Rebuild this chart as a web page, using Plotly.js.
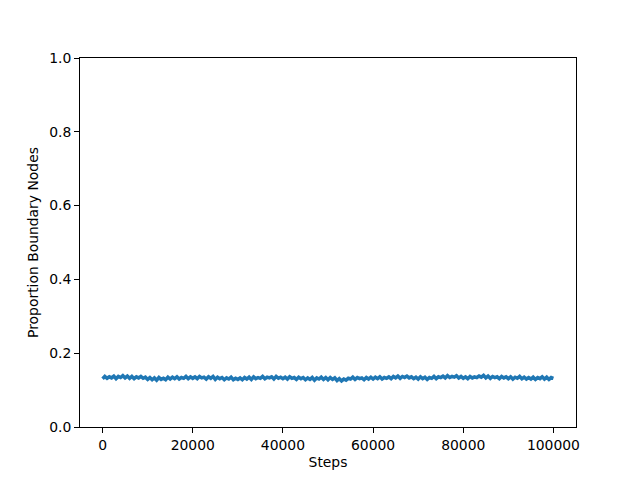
<!DOCTYPE html>
<html><head><meta charset="utf-8">
<script src="https://cdn.plot.ly/plotly-3.0.1.min.js"></script>
<style>body{margin:0}#p{width:640px;height:480px}</style>
</head><body><div id="p"></div>
<script>
const steps = [
0,500,1000,1500,2000,2500,3000,3500,4000,4500,
5000,5500,6000,6500,7000,7500,8000,8500,9000,9500,
10000,10500,11000,11500,12000,12500,13000,13500,14000,14500,
15000,15500,16000,16500,17000,17500,18000,18500,19000,19500,
20000,20500,21000,21500,22000,22500,23000,23500,24000,24500,
25000,25500,26000,26500,27000,27500,28000,28500,29000,29500,
30000,30500,31000,31500,32000,32500,33000,33500,34000,34500,
35000,35500,36000,36500,37000,37500,38000,38500,39000,39500,
40000,40500,41000,41500,42000,42500,43000,43500,44000,44500,
45000,45500,46000,46500,47000,47500,48000,48500,49000,49500,
50000,50500,51000,51500,52000,52500,53000,53500,54000,54500,
55000,55500,56000,56500,57000,57500,58000,58500,59000,59500,
60000,60500,61000,61500,62000,62500,63000,63500,64000,64500,
65000,65500,66000,66500,67000,67500,68000,68500,69000,69500,
70000,70500,71000,71500,72000,72500,73000,73500,74000,74500,
75000,75500,76000,76500,77000,77500,78000,78500,79000,79500,
80000,80500,81000,81500,82000,82500,83000,83500,84000,84500,
85000,85500,86000,86500,87000,87500,88000,88500,89000,89500,
90000,90500,91000,91500,92000,92500,93000,93500,94000,94500,
95000,95500,96000,96500,97000,97500,98000,98500,99000,99500,
100000];
const proportion = [
0.131,0.137,0.132,0.136,0.133,0.138,0.131,0.137,0.134,0.139,
0.133,0.138,0.132,0.137,0.131,0.136,0.133,0.137,0.132,0.135,
0.129,0.134,0.128,0.133,0.127,0.134,0.129,0.132,0.128,0.135,
0.130,0.135,0.131,0.136,0.130,0.134,0.132,0.137,0.131,0.136,
0.132,0.136,0.131,0.137,0.133,0.135,0.130,0.136,0.132,0.137,
0.129,0.135,0.131,0.134,0.128,0.133,0.130,0.135,0.128,0.132,
0.129,0.133,0.128,0.134,0.130,0.135,0.129,0.136,0.131,0.134,
0.132,0.137,0.131,0.135,0.133,0.136,0.130,0.137,0.132,0.135,
0.131,0.135,0.130,0.136,0.132,0.134,0.129,0.135,0.131,0.134,
0.128,0.133,0.129,0.134,0.127,0.133,0.130,0.135,0.129,0.134,
0.128,0.134,0.129,0.133,0.126,0.131,0.125,0.130,0.127,0.132,
0.130,0.135,0.129,0.134,0.131,0.133,0.128,0.134,0.130,0.135,
0.130,0.135,0.131,0.136,0.130,0.134,0.132,0.136,0.131,0.137,
0.133,0.138,0.132,0.137,0.134,0.138,0.133,0.136,0.131,0.135,
0.130,0.136,0.131,0.135,0.129,0.134,0.132,0.137,0.131,0.136,
0.134,0.138,0.133,0.139,0.134,0.137,0.135,0.139,0.133,0.137,
0.132,0.136,0.131,0.137,0.133,0.136,0.134,0.138,0.135,0.140,
0.133,0.138,0.132,0.137,0.134,0.136,0.131,0.137,0.133,0.136,
0.131,0.136,0.130,0.135,0.132,0.137,0.131,0.135,0.130,0.134,
0.130,0.135,0.129,0.134,0.131,0.136,0.130,0.135,0.129,0.134,
0.132];
const xTicks = [0,20000,40000,60000,80000,100000];
const yTicks = [0.0,0.2,0.4,0.6,0.8,1.0];
const font = {family:'DejaVu Sans', size:13.9, color:'#000'};
const axisCommon = {showline:true, mirror:true, linecolor:'#000', linewidth:1,
  ticks:'outside', ticklen:5, tickwidth:1, tickcolor:'#000', showgrid:false, zeroline:false,
  tickfont:font};
Plotly.newPlot('p', [{
  x: steps, y: proportion, type:'scatter', mode:'lines',
  line:{color:'#1f77b4', width:3.5}
}], {
  width:640, height:480,
  margin:{l:80, r:64, t:58, b:53, pad:0},
  paper_bgcolor:'#fff', plot_bgcolor:'#fff',
  font: font, showlegend:false,
  xaxis: Object.assign({}, axisCommon, {range:[-5000,105000], tickvals:xTicks, ticktext:xTicks.map(String),
    title:{text:'Steps', font:font, standoff:5}}),
  yaxis: Object.assign({}, axisCommon, {range:[0,1], tickvals:yTicks, ticktext:yTicks.map(v=>v.toFixed(1)),
    title:{text:'Proportion Boundary Nodes', font:font, standoff:7}})
}, {staticPlot:true});
</script></body></html>
